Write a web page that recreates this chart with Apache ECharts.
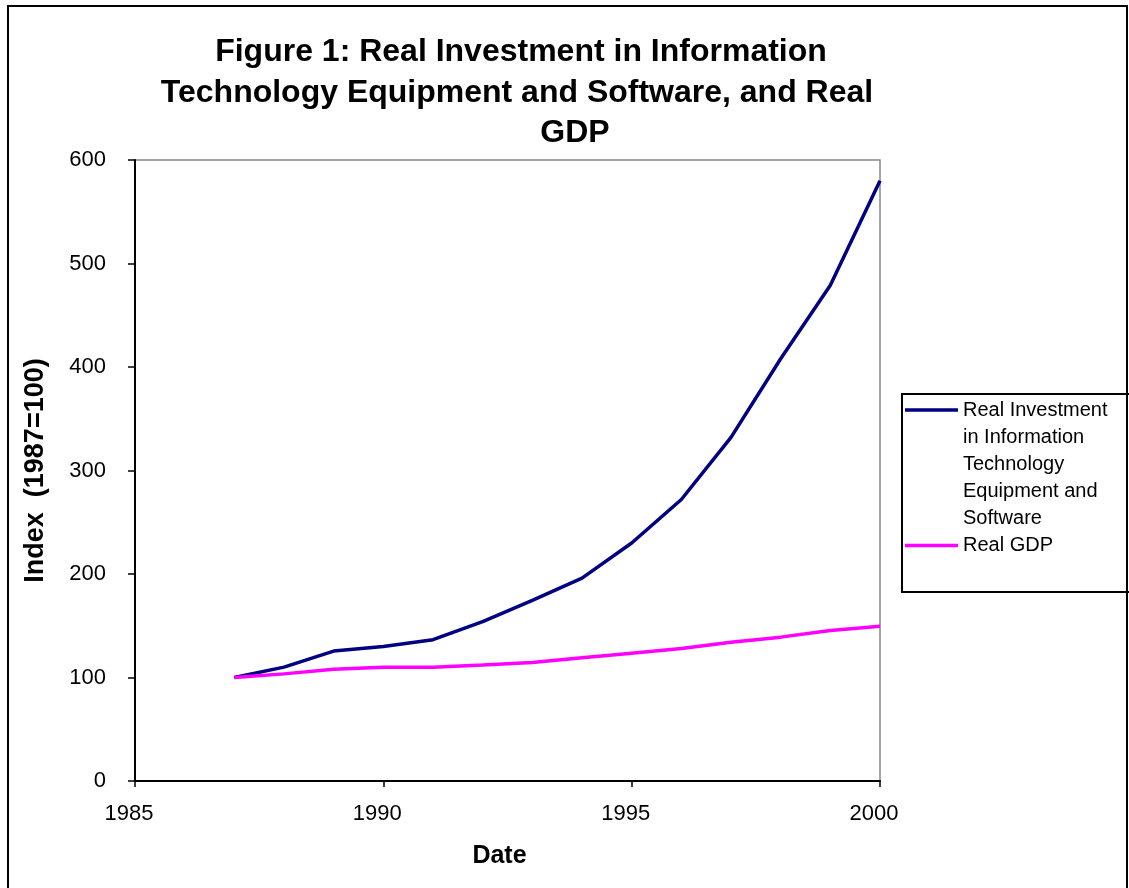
<!DOCTYPE html>
<html>
<head>
<meta charset="utf-8">
<script src="https://cdn.jsdelivr.net/npm/echarts@6/dist/echarts.min.js"></script>
<style>
html,body{margin:0;padding:0;background:#fff;}
#chart{width:1129px;height:888px;}
</style>
</head>
<body>
<div id="chart"></div>
<script>
// ---- data ----
const years = [1987, 1988, 1989, 1990, 1991, 1992, 1993, 1994, 1995, 1996, 1997, 1998, 1999, 2000];
const itInvestment = [100, 110, 125.5, 130, 136.5, 154, 174.5, 196, 230, 272, 332, 408, 479, 580];
const realGDP = [100, 103.5, 108, 110, 110, 112, 114.5, 119, 123.5, 128, 134, 139, 145.5, 149.5];
const seriesNames = ['Real Investment in Information Technology Equipment and Software', 'Real GDP'];
const legendLabels = ['Real Investment\nin Information\nTechnology\nEquipment and\nSoftware', 'Real GDP'];
const titleLines = ['Figure 1: Real Investment in Information', 'Technology Equipment and Software, and Real', 'GDP'];
const xTitle = 'Date';
const yTitle = 'Index  (1987=100)';

const FONT = "'Liberation Sans', Arial, sans-serif";
const TITLE_FONT = "bold 32px 'Liberation Sans', Arial, sans-serif";
const chart = echarts.init(document.getElementById('chart'), null, {renderer: 'canvas'});

const pairs = (vals) => years.map((y, i) => [y, vals[i]]);

const iconIT = 'path://M0,0L0.01,0Z M0,11.75L53,11.75L53,15.25L0,15.25Z M0,135L0.01,135Z';

const option = {
  backgroundColor: '#fff',
  animation: false,
  textStyle: {fontFamily: FONT},
  grid: {left: 135, right: 249, top: 160, bottom: 107, show: true, borderColor: '#888', borderWidth: 1.5, backgroundColor: 'transparent'},
  xAxis: {
    type: 'value', min: 1985, max: 2000, interval: 5,
    name: xTitle, nameLocation: 'middle', nameGap: 63,
    nameTextStyle: {fontFamily: FONT, fontSize: 25, fontWeight: 'bold', color: '#000', padding: [0, 16, 0, 0]},
    axisLine: {show: true, onZero: false, lineStyle: {color: '#000', width: 2}},
    axisTick: {show: true, inside: false, length: 6, lineStyle: {color: '#000', width: 1.5}},
    axisLabel: {fontFamily: FONT, fontSize: 22, color: '#000', margin: 22, padding: [0, 12, 0, 0], formatter: v => String(v)},
    splitLine: {show: false}
  },
  yAxis: {
    type: 'value', min: 0, max: 600, interval: 100,
    name: yTitle, nameLocation: 'middle', nameGap: 86, nameRotate: 90,
    nameTextStyle: {fontFamily: FONT, fontSize: 27, fontWeight: 'bold', color: '#000'},
    axisLine: {show: true, lineStyle: {color: '#000', width: 2}},
    axisTick: {show: true, inside: false, length: 7, lineStyle: {color: '#000', width: 1.5}},
    axisLabel: {fontFamily: FONT, fontSize: 22, color: '#000', margin: 29},
    splitLine: {show: false}
  },
  legend: [
    {
      data: [{name: seriesNames[0], icon: iconIT}],
      orient: 'vertical', left: 905, top: 396.5, padding: 0,
      itemWidth: 53, itemHeight: 135, itemGap: 0,
      itemStyle: {borderWidth: 0},
      selectedMode: false,
      formatter: () => legendLabels[0],
      textStyle: {fontFamily: FONT, fontSize: 20, lineHeight: 27, color: '#000'}
    },
    {
      data: [{name: seriesNames[1], icon: 'rect'}],
      orient: 'vertical', left: 905, top: 532, padding: 0,
      itemWidth: 53, itemHeight: 3.5, itemGap: 0,
      itemStyle: {borderWidth: 0},
      selectedMode: false,
      formatter: () => legendLabels[1],
      textStyle: {fontFamily: FONT, fontSize: 20, lineHeight: 27, color: '#000'}
    }
  ],
  graphic: [
    {type: 'rect', shape: {x: 8, y: 6, width: 1119, height: 900}, style: {fill: 'none', stroke: '#000', lineWidth: 2}, silent: true, z: 0},
    {type: 'rect', shape: {x: 902, y: 394, width: 240, height: 198}, style: {fill: 'none', stroke: '#000', lineWidth: 2}, silent: true, z: 10},
    {type: 'text', x: 521, y: 52, style: {text: titleLines[0], font: TITLE_FONT, fill: '#000', align: 'center', verticalAlign: 'middle'}, z: 10},
    {type: 'text', x: 517, y: 93, style: {text: titleLines[1], font: TITLE_FONT, fill: '#000', align: 'center', verticalAlign: 'middle'}, z: 10},
    {type: 'text', x: 575, y: 133, style: {text: titleLines[2], font: TITLE_FONT, fill: '#000', align: 'center', verticalAlign: 'middle'}, z: 10}
  ],
  series: [
    {
      name: seriesNames[0], type: 'line', data: pairs(itInvestment), symbol: 'none',
      lineStyle: {color: '#000080', width: 3.5}, itemStyle: {color: '#000080'}, z: 3
    },
    {
      name: seriesNames[1], type: 'line', data: pairs(realGDP), symbol: 'none',
      lineStyle: {color: '#FF00FF', width: 3.5}, itemStyle: {color: '#FF00FF'}, z: 4
    }
  ]
};
chart.setOption(option);
</script>
</body>
</html>
